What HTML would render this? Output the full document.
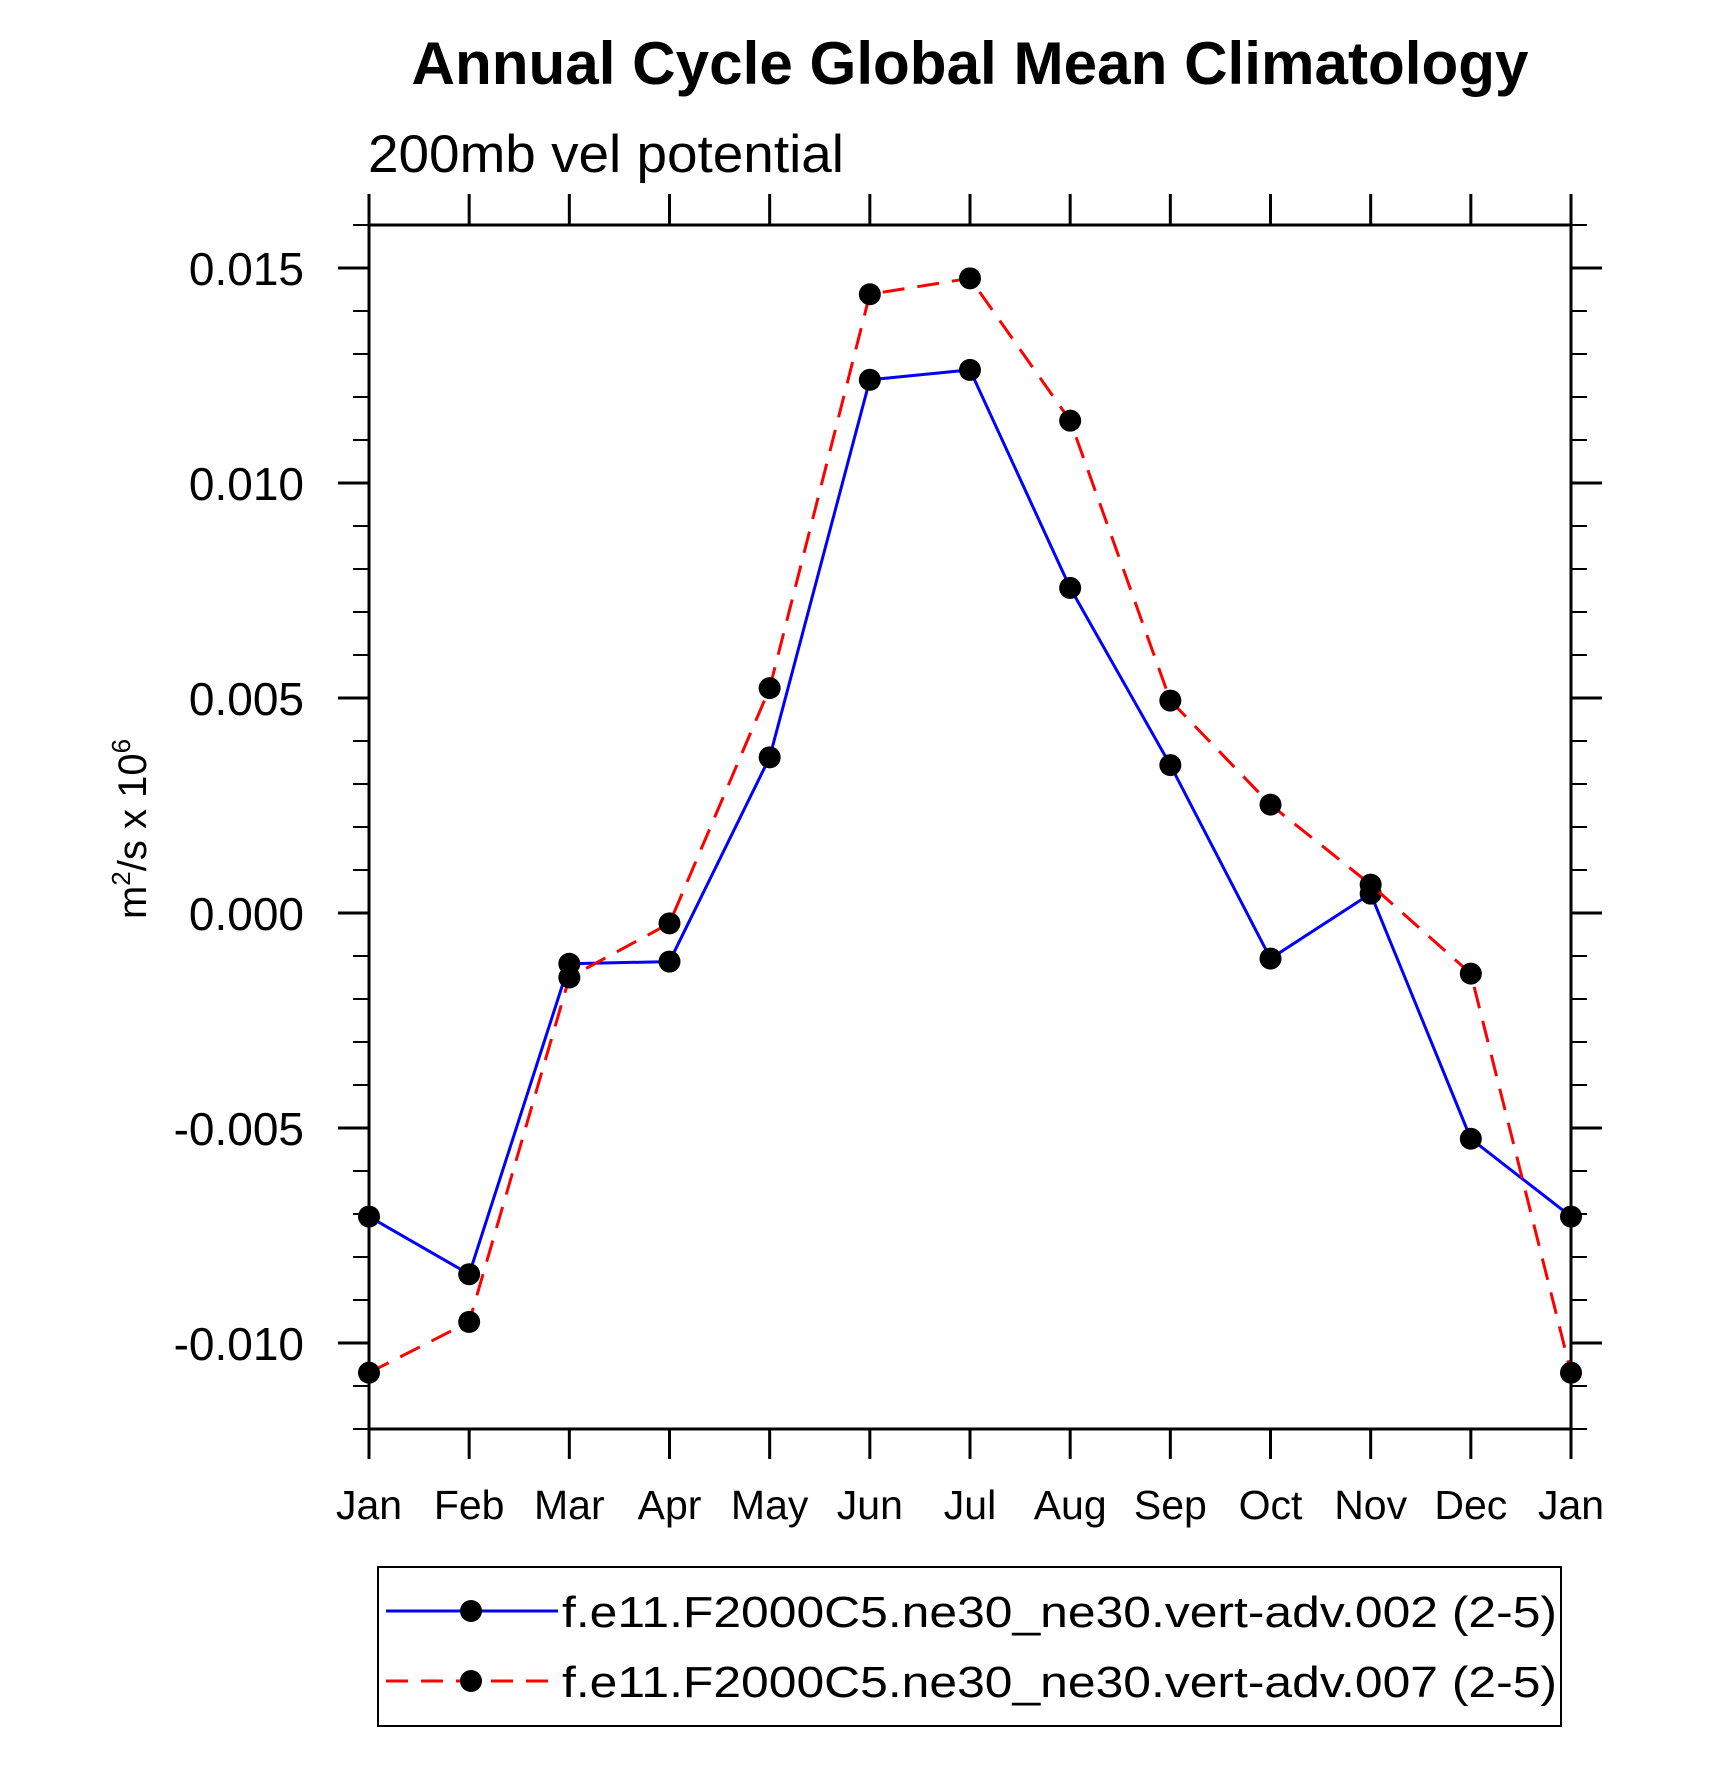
<!DOCTYPE html>
<html><head><meta charset="utf-8"><style>
html,body{margin:0;padding:0;background:#fff;}
svg{display:block;font-family:"Liberation Sans",Arial,sans-serif;}
</style></head><body>
<svg id="chart" width="1710" height="1769" viewBox="0 0 1710 1769" xmlns="http://www.w3.org/2000/svg">
<text x="970" y="84" text-anchor="middle" font-size="60" font-weight="bold" textLength="1117" lengthAdjust="spacingAndGlyphs">Annual Cycle Global Mean Climatology</text>
<text x="368" y="172" font-size="53" textLength="476" lengthAdjust="spacingAndGlyphs">200mb vel potential</text>
<text transform="translate(146,829) rotate(-90)" text-anchor="middle" font-size="40">m<tspan font-size="26" dy="-16">2</tspan><tspan dy="16">/s x 10</tspan><tspan font-size="26" dy="-16">6</tspan></text>
<g id="axes"></g>
<g id="series"></g>
<g>
<rect x="378" y="1567" width="1183" height="159" fill="none" stroke="#000" stroke-width="2"/>
<g>
<line x1="386" y1="1611" x2="558" y2="1611" stroke="#0000ff" stroke-width="3"/>
<circle cx="471" cy="1611" r="11" fill="#000"/>
<text x="562" y="1627" font-size="44" textLength="995" lengthAdjust="spacingAndGlyphs">f.e11.F2000C5.ne30_ne30.vert-adv.002 (2-5)</text>
</g>
<g>
<line x1="386" y1="1681" x2="558" y2="1681" stroke="#ff0000" stroke-width="3" stroke-dasharray="22,13"/>
<circle cx="471" cy="1681" r="11" fill="#000"/>
<text x="562" y="1697" font-size="44" textLength="995" lengthAdjust="spacingAndGlyphs">f.e11.F2000C5.ne30_ne30.vert-adv.007 (2-5)</text>
</g>
</g>
</svg>
<script>
const months = ["Jan","Feb","Mar","Apr","May","Jun","Jul","Aug","Sep","Oct","Nov","Dec","Jan"];
const series002 = [-0.00706,-0.0084,-0.00118,-0.00113,0.00362,0.0124,0.01263,0.00756,0.00344,-0.00106,0.00045,-0.00525,-0.00706];
const series007 = [-0.01069,-0.00951,-0.0015,-0.00024,0.00523,0.01439,0.01476,0.01145,0.00494,0.00252,0.00066,-0.00141,-0.01069];
const yTickLabels = ["-0.010","-0.005","0.000","0.005","0.010","0.015"];
const yTickValues = [-0.010,-0.005,0,0.005,0.010,0.015];

const L=369,R=1571,T=225,B=1429,YMIN=-0.012,YMAX=0.016;
const NS="http://www.w3.org/2000/svg";
function xs(i){return L+(R-L)*i/(months.length-1);}
function ys(v){return B-(v-YMIN)/(YMAX-YMIN)*(B-T);}
function mk(tag,attrs,parent){const e=document.createElementNS(NS,tag);for(const k in attrs)e.setAttribute(k,attrs[k]);parent.appendChild(e);return e;}
const axes=document.getElementById('axes');
const frame=mk('rect',{x:L,y:T,width:R-L,height:B-T,fill:'none',stroke:'#000','stroke-width':3},axes);


months.forEach((m,i)=>{
  const x=xs(i);
  const t1=mk('line',{x1:x,y1:B,x2:x,y2:B+30,stroke:'#000','stroke-width':3},axes);
  
  
  const t2=mk('line',{x1:x,y1:T,x2:x,y2:T-31,stroke:'#000','stroke-width':3},axes);
  
  
  const lb=mk('text',{x:x,y:1519,'text-anchor':'middle','font-size':41},axes);
  lb.textContent=m;
  
  
});
for(let k=-12;k<=16;k++){
  const v=k/1000, y=ys(v), major=(k%5===0);
  const len=major?31:16;
  const a=mk('line',{x1:L-len,y1:y,x2:L,y2:y,stroke:'#000','stroke-width':major?3:2},axes);
  
  
  const b=mk('line',{x1:R,y1:y,x2:R+len,y2:y,stroke:'#000','stroke-width':major?3:2},axes);
  
  
}
yTickValues.forEach((v,i)=>{
  const lb=mk('text',{x:304,y:ys(v)+17,'text-anchor':'end','font-size':46},axes);
  lb.textContent=yTickLabels[i];
  
  
});
const sg=document.getElementById('series');
function draw(data,color,dash,name){
  const g=mk('g',{},sg);
  
  
  const pts=data.map((v,i)=>xs(i)+','+ys(v)).join(' ');
  const attrs={points:pts,fill:'none',stroke:color,'stroke-width':3};
  if(dash)attrs['stroke-dasharray']=dash;
  const pl=mk('polyline',attrs,g);
  
  
  data.forEach((v,i)=>{
    const c=mk('circle',{cx:xs(i),cy:ys(v),r:11,fill:'#000'},g);
    
    
  });
}
draw(series002,'#0000ff',null,'series-002');
draw(series007,'#ff0000','22,13','series-007');
</script>
</body></html>
